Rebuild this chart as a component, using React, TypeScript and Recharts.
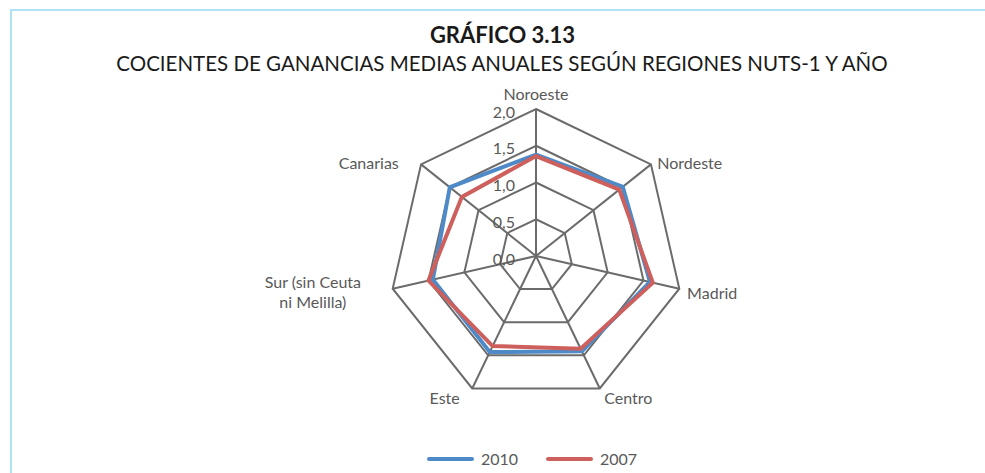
import { RadarChart, Radar, PolarGrid, PolarAngleAxis, PolarRadiusAxis, Legend } from 'recharts'

const regions = ['Noroeste', 'Nordeste', 'Madrid', 'Centro', 'Este', 'Sur (sin Ceuta ni Melilla)', 'Canarias']
const values2010 = [1.38, 1.51, 1.59, 1.44, 1.45, 1.44, 1.5]
const values2007 = [1.36, 1.45, 1.63, 1.4, 1.36, 1.5, 1.29]
const radiusTicks = [0, 0.5, 1, 1.5, 2]

const data = regions.map((name, i) => ({ name, y2010: values2010[i], y2007: values2007[i] }))

const FONT = 'Lato, "Open Sans", sans-serif'
const TEXT = '#595959'
const GRID = '#6b6b6b'
const BLUE = '#4e8ac8'
const RED = '#cd5f5c'

// per-label nudges so the category names sit like in the original
const LABEL_NUDGE: Record<string, { dx: number; dy: number; anchor?: string }> = {
  Noroeste: { dx: 0, dy: -8 },
  Nordeste: { dx: 0, dy: 3 },
  Madrid: { dx: 0, dy: 2 },
  Centro: { dx: 1, dy: 2 },
  Este: { dx: -9, dy: 2 },
  'Sur (sin Ceuta ni Melilla)': { dx: -72, dy: 1, anchor: 'middle' },
  Canarias: { dx: -16, dy: 3 },
}

function AngleTick(props: any) {
  const { x, y, textAnchor, payload } = props
  const name: string = payload.value
  const n = LABEL_NUDGE[name] ?? { dx: 0, dy: 0 }
  const anchor = n.anchor ?? textAnchor
  const lines = name.startsWith('Sur') ? ['Sur (sin Ceuta', 'ni Melilla)'] : [name]
  const startY = y + n.dy - ((lines.length - 1) * 20) / 2
  return (
    <text x={x + n.dx} y={startY} textAnchor={anchor} fill={TEXT} fontSize={16} fontFamily={FONT}>
      {lines.map((l, i) => (
        <tspan key={i} x={x + n.dx} y={startY + i * 20} dominantBaseline="central">
          {l}
        </tspan>
      ))}
    </text>
  )
}

function RadiusTick(props: any) {
  const { x, y, payload } = props
  return (
    <text x={x - 21} y={y + 2} textAnchor="end" dominantBaseline="central" fill={TEXT} fontSize={16} fontFamily={FONT}>
      {Number(payload.value).toFixed(1).replace('.', ',')}
    </text>
  )
}

function LegendContent() {
  const items = [
    { label: '2010', color: BLUE },
    { label: '2007', color: RED },
  ]
  return (
    <div style={{ display: 'flex', justifyContent: 'center', gap: 28, fontFamily: FONT, fontSize: 16, color: TEXT }}>
      {items.map((it) => (
        <div key={it.label} style={{ display: 'flex', alignItems: 'center', gap: 7 }}>
          <div style={{ width: 47, height: 4, borderRadius: 2, background: it.color }} />
          <span>{it.label}</span>
        </div>
      ))}
    </div>
  )
}

export default function App() {
  return (
    <div style={{ position: 'absolute', left: 0, top: 0, width: 985, height: 473, background: '#fff', overflow: 'hidden' }}>
      {/* light blue frame, top and left only */}
      <div style={{ position: 'absolute', left: 10, top: 9, right: 0, height: 2, background: '#aee2f7' }} />
      <div style={{ position: 'absolute', left: 10, top: 9, width: 2, bottom: 0, background: '#aee2f7' }} />
      <div
        style={{
          position: 'absolute', top: 21, left: 0, width: 1005, textAlign: 'center',
          fontFamily: FONT, fontWeight: 700, fontSize: 22, color: '#1a1a1a',
        }}
      >
        GRÁFICO 3.13
      </div>
      <div
        style={{
          position: 'absolute', top: 51, left: 0, width: 1004, textAlign: 'center',
          fontFamily: FONT, fontSize: 20.5, color: '#1a1a1a',
        }}
      >
        COCIENTES DE GANANCIAS MEDIAS ANUALES SEGÚN REGIONES NUTS-1 Y AÑO
      </div>
      <div style={{ position: 'absolute', left: 0, top: 0 }}>
        <RadarChart width={985} height={473} data={data} cx={536} cy={256} outerRadius={147}>
          <PolarGrid gridType="polygon" stroke={GRID} strokeWidth={2} strokeOpacity={1} />
          <PolarAngleAxis dataKey="name" tick={<AngleTick />} tickLine={false} axisLine={false} />
          <PolarRadiusAxis
            angle={90}
            domain={[0, 2]}
            ticks={radiusTicks}
            tick={<RadiusTick />}
            axisLine={false}
            tickLine={false}
          />
          <Radar dataKey="y2010" name="2010" stroke={BLUE} strokeWidth={4} fill="none" fillOpacity={0} dot={false} isAnimationActive={false} />
          <Radar dataKey="y2007" name="2007" stroke={RED} strokeWidth={4} fill="none" fillOpacity={0} dot={false} isAnimationActive={false} />
          <Legend content={<LegendContent />} wrapperStyle={{ left: 30, width: 1004, top: 449 }} />
        </RadarChart>
      </div>
    </div>
  )
}
